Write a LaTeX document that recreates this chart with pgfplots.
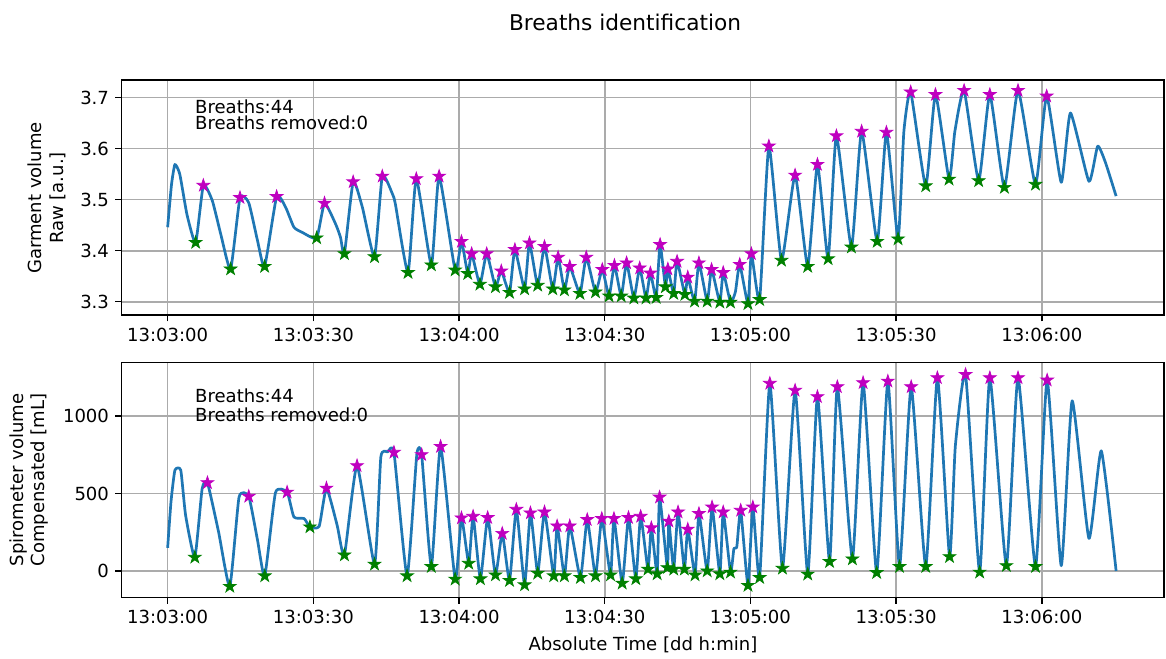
\documentclass[border=0pt]{standalone}
\usepackage{pgfplots}
\pgfplotsset{compat=1.18}
\usepackage{fontspec}
\setmainfont{DejaVu Sans}
\definecolor{mplblue}{HTML}{1F77B4}
\definecolor{mplmag}{HTML}{BF00BF}
\definecolor{mplgreen}{HTML}{008000}
\definecolor{gridgray}{HTML}{ABABAB}
\pgfdeclareplotmark{fstar}{%
  \pgfpathmoveto{\pgfpointpolar{90}{\pgfplotmarksize}}%
  \pgfpathlineto{\pgfpointpolar{126}{0.382\pgfplotmarksize}}%
  \pgfpathlineto{\pgfpointpolar{162}{\pgfplotmarksize}}%
  \pgfpathlineto{\pgfpointpolar{198}{0.382\pgfplotmarksize}}%
  \pgfpathlineto{\pgfpointpolar{234}{\pgfplotmarksize}}%
  \pgfpathlineto{\pgfpointpolar{270}{0.382\pgfplotmarksize}}%
  \pgfpathlineto{\pgfpointpolar{306}{\pgfplotmarksize}}%
  \pgfpathlineto{\pgfpointpolar{342}{0.382\pgfplotmarksize}}%
  \pgfpathlineto{\pgfpointpolar{18}{\pgfplotmarksize}}%
  \pgfpathlineto{\pgfpointpolar{54}{0.382\pgfplotmarksize}}%
  \pgfpathclose
  \pgfusepathqfillstroke}

% ---------------- data ----------------
\pgfplotstableread{
t v
0 3.446
0.8 3.53
1.5 3.569
2.5 3.55
4.0 3.47
5.77 3.416
7.35 3.528
9.2 3.498
11.0 3.43
12.97 3.364
14.9 3.504
16.7 3.494
18.5 3.42
19.97 3.369
22.44 3.506
24.3 3.485
26.0 3.446
27.7 3.436
30.68 3.425
32.3 3.493
34.6 3.452
35.6 3.426
36.4 3.394
38.2 3.535
40.1 3.485
42.6 3.388
44.2 3.546
46.3 3.511
46.9 3.491
49.5 3.357
51.2 3.541
54.3 3.372
55.9 3.546
59.2 3.362
60.5 3.418
61.8 3.355
62.6 3.394
64.3 3.334
65.7 3.394
67.5 3.329
68.7 3.360
70.4 3.318
71.5 3.402
73.5 3.325
74.5 3.415
76.2 3.332
77.6 3.408
79.3 3.325
80.4 3.387
81.7 3.323
82.8 3.369
84.9 3.316
86.2 3.387
88.1 3.319
89.5 3.363
90.9 3.311
92.0 3.371
93.4 3.311
94.5 3.376
96.0 3.307
97.2 3.366
98.5 3.307
99.4 3.356
100.6 3.308
101.4 3.412
102.5 3.329
103.0 3.364
104.2 3.316
104.9 3.379
106.5 3.314
107.1 3.348
108.5 3.301
109.4 3.376
111.1 3.301
112.0 3.363
113.7 3.299
114.4 3.357
115.9 3.299
116.9 3.319
117.8 3.373
119.5 3.296
120.2 3.394
121.9 3.304
123.8 3.605
126.4 3.381
129.2 3.548
131.8 3.369
133.8 3.569
136.0 3.384
137.7 3.625
140.8 3.407
142.9 3.634
146.1 3.418
148.0 3.632
150.4 3.423
151.6 3.634
153.0 3.711
156.1 3.527
158.1 3.706
160.9 3.540
162.1 3.634
164.0 3.714
167.0 3.537
169.3 3.706
172.3 3.524
175.1 3.714
178.7 3.530
181.0 3.703
184.0 3.534
185.9 3.670
189.7 3.536
191.5 3.605
193.1 3.573
195.3 3.507
}\rawline

\pgfplotstableread{
t v
7.35 3.528
14.9 3.504
22.44 3.506
32.3 3.493
38.2 3.535
44.2 3.546
51.2 3.541
55.9 3.546
60.5 3.418
62.6 3.394
65.7 3.394
68.7 3.360
71.5 3.402
74.5 3.415
77.6 3.408
80.4 3.387
82.8 3.369
86.2 3.387
89.5 3.363
92.0 3.371
94.5 3.376
97.2 3.366
99.4 3.356
101.4 3.412
103.0 3.364
104.9 3.379
107.1 3.348
109.4 3.376
112.0 3.363
114.4 3.357
117.8 3.373
120.2 3.394
123.8 3.605
129.2 3.548
133.8 3.569
137.7 3.625
142.9 3.634
148.0 3.632
153.0 3.711
158.1 3.706
164.0 3.714
169.3 3.706
175.1 3.714
181.0 3.703
}\rawpeaks

\pgfplotstableread{
t v
5.77 3.416
12.97 3.364
19.97 3.369
30.68 3.425
36.4 3.394
42.6 3.388
49.5 3.357
54.3 3.372
59.2 3.362
61.8 3.355
64.3 3.334
67.5 3.329
70.4 3.318
73.5 3.325
76.2 3.332
79.3 3.325
81.7 3.323
84.9 3.316
88.1 3.319
90.9 3.311
93.4 3.311
96.0 3.307
98.5 3.307
100.6 3.308
102.5 3.329
104.2 3.316
106.5 3.314
108.5 3.301
111.1 3.301
113.7 3.299
115.9 3.299
119.5 3.296
121.9 3.304
126.4 3.381
131.8 3.369
136.0 3.384
140.8 3.407
146.1 3.418
150.4 3.423
156.1 3.527
160.9 3.540
167.0 3.537
172.3 3.524
178.7 3.530
}\rawtroughs

\pgfplotstableread{
t v
0 149
0.7 450
1.5 650
2.7 650
3.7 359
5.6 88
7.1 530
8.2 569
10.5 250
12.8 -100
14.7 476
16.7 481
18.5 200
20.0 -32
22.2 505
24.6 508
26.0 348
28.1 338
29.3 284
31.2 288
32.7 534
34.9 295
36.4 103
39.0 679
42.6 43
43.9 735
45.3 768
46.6 765
49.3 -32
51.3 750
52.3 750
54.3 28
56.2 803
59.2 -53
60.5 342
62.0 49
62.9 352
64.4 -51
65.9 344
67.5 -26
68.9 242
70.4 -62
71.8 397
73.5 -90
74.7 374
76.2 -15
77.6 380
79.5 -32
80.2 290
81.7 -32
82.8 290
85.0 -43
86.4 331
88.1 -32
89.4 338
91.2 -26
91.9 338
93.6 -79
94.9 344
96.4 -51
97.4 352
98.9 11
99.6 278
100.8 -19
101.3 476
102.9 21
103.2 321
104.2 11
105.1 380
106.4 11
107.1 269
108.6 -26
109.4 370
111.1 0
112.1 412
113.7 -19
114.4 380
115.9 -8
116.6 145
117.2 156
118.0 391
119.5 -94
120.5 412
121.9 -43
124.0 1210
126.6 17
129.2 1165
131.8 -21
133.8 1124
136.3 60
137.9 1188
141.0 77
143.2 1214
146.0 -11
148.3 1224
150.7 28
153.1 1188
156.1 28
158.5 1246
161.0 92
162.2 808
164.3 1267
167.2 -8
169.3 1246
172.7 34
175.1 1246
178.7 28
181.1 1231
184.0 34
186.25 1098
189.7 210
192.25 775
195.3 0
}\spiroline

\pgfplotstableread{
t v
8.2 569
16.7 481
24.6 508
32.7 534
39.0 679
46.6 765
52.3 750
56.2 803
60.5 342
62.9 352
65.9 344
68.9 242
71.8 397
74.7 374
77.6 380
80.2 290
82.8 290
86.4 331
89.4 338
91.9 338
94.9 344
97.4 352
99.6 278
101.3 476
103.2 321
105.1 380
107.1 269
109.4 370
112.1 412
114.4 380
118.0 391
120.5 412
124.0 1210
129.2 1165
133.8 1124
137.9 1188
143.2 1214
148.3 1224
153.1 1188
158.5 1246
164.3 1267
169.3 1246
175.1 1246
181.1 1231
}\spiropeaks

\pgfplotstableread{
t v
5.6 88
12.8 -100
20.0 -32
29.3 284
36.4 103
42.6 43
49.3 -32
54.3 28
59.2 -53
62.0 49
64.4 -51
67.5 -26
70.4 -62
73.5 -90
76.2 -15
79.5 -32
81.7 -32
85.0 -43
88.1 -32
91.2 -26
93.6 -79
96.4 -51
98.9 11
100.8 -19
102.9 21
104.2 11
106.4 11
108.6 -26
111.1 0
113.7 -19
115.9 -8
119.5 -94
121.9 -43
126.6 17
131.8 -21
136.3 60
141.0 77
146.0 -11
150.7 28
156.1 28
161.0 92
167.2 -8
172.7 34
178.7 28
}\spirotroughs

\pgfplotsset{
  mplaxis/.style={
    anchor=south west,
    scale only axis,
    width=577.6pt,
    height=130.2pt,
    xmin=-9.47, xmax=205.2,
    xtick={0,30,60,90,120,150,180},
    xticklabels={13:03:00,13:03:30,13:04:00,13:04:30,13:05:00,13:05:30,13:06:00},
    grid=major,
    major grid style={gridgray, line width=0.9pt},
    axis line style={black, line width=0.8pt},
    tick style={black, line width=0.8pt},
    tick align=outside,
    major tick length=3.5pt,
    xtick pos=bottom, ytick pos=left,
    /pgf/number format/assume math mode=true,
    tick label style={font=\fontsize{10}{12}\selectfont},
  },
  sig/.style={mplblue, line width=1.5pt, line join=round, no markers, smooth, tension=0.3},
  pk/.style={only marks, mark=fstar, mark size=3.7pt, draw=mplmag, fill=mplmag},
  tr/.style={only marks, mark=fstar, mark size=3.7pt, draw=mplgreen, fill=mplgreen},
}

\begin{document}
\begin{tikzpicture}[x=1pt,y=1pt]
\path (0,0) rectangle (646,364.5);

\begin{axis}[mplaxis, at={(67.4pt,190pt)},
  ymin=3.274, ymax=3.7347,
  ytick={3.3,3.4,3.5,3.6,3.7},
  yticklabels={3.3,3.4,3.5,3.6,3.7}]
\addplot[sig] table[x=t,y=v] {\rawline};
\addplot[pk] table[x=t,y=v] {\rawpeaks};
\addplot[tr] table[x=t,y=v] {\rawtroughs};
\node[anchor=base west, inner sep=0pt, font=\fontsize{10}{12}\selectfont] at (axis cs:5.6,3.6685) {Breaths:44};
\node[anchor=base west, inner sep=0pt, font=\fontsize{10}{12}\selectfont] at (axis cs:5.6,3.638) {Breaths removed:0};
\end{axis}

\begin{axis}[mplaxis, at={(67.4pt,33.4pt)},
  ymin=-172, ymax=1344,
  ytick={0,500,1000},
  yticklabels={0,500,1000}]
\addplot[sig] table[x=t,y=v] {\spiroline};
\addplot[pk] table[x=t,y=v] {\spiropeaks};
\addplot[tr] table[x=t,y=v] {\spirotroughs};
\node[anchor=base west, inner sep=0pt, font=\fontsize{10}{12}\selectfont] at (axis cs:5.6,1086) {Breaths:44};
\node[anchor=base west, inner sep=0pt, font=\fontsize{10}{12}\selectfont] at (axis cs:5.6,966) {Breaths removed:0};
\end{axis}

\node[font=\fontsize{12}{14}\selectfont] at (346.3,352.3) {Breaths identification};
\node[font=\fontsize{10}{12}\selectfont] at (356.2,7.2) {Absolute Time [dd h:min]};
\node[rotate=90, align=center, font=\fontsize{10}{12}\selectfont] at (26.0,254.8) {Garment volume\\Raw [a.u.]};
\node[rotate=90, align=center, font=\fontsize{10}{12}\selectfont] at (16.1,98.6) {Spirometer volume\\Compensated [mL]};
\end{tikzpicture}
\end{document}
